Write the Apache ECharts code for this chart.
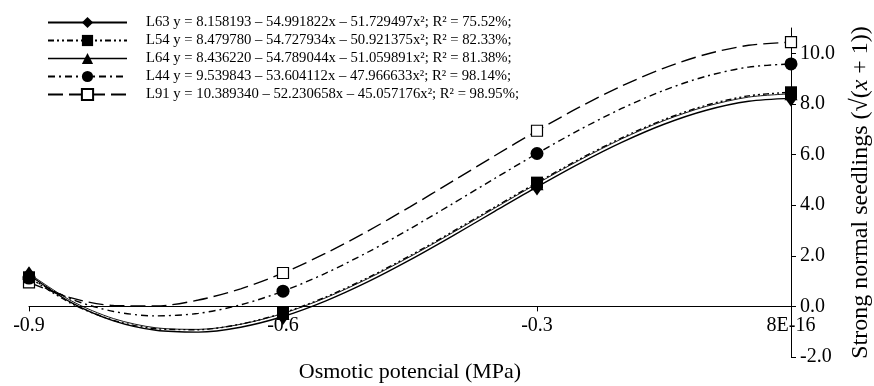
<!DOCTYPE html>
<html><head><meta charset="utf-8">
<script src="https://cdn.jsdelivr.net/npm/echarts@6/dist/echarts.min.js"></script>
<style>html,body{margin:0;padding:0;background:#fff}#c{width:874px;height:386px}</style>
</head><body><div id="c"></div>
<script>
// ---- data ----
const legendNames = [
  'L63 y = 8.158193 – 54.991822x – 51.729497x²; R² = 75.52%;',
  'L54 y = 8.479780 – 54.727934x – 50.921375x²; R² = 82.33%;',
  'L64 y = 8.436220 – 54.789044x – 51.059891x²; R² = 81.38%;',
  'L44 y = 9.539843 – 53.604112x – 47.966633x²; R² = 98.14%;',
  'L91 y = 10.389340 – 52.230658x – 45.057176x²; R² = 98.95%;'
];
const pointX = [-0.9, -0.6, -0.3, 0];
const ptL63 = [1.25, -0.40, 4.72, 8.22];
const ptL54 = [1.15, -0.26, 4.89, 8.46];
const ptL64 = [1.30, -0.28, 4.85, 8.40];
const ptL44 = [1.12, 0.60, 6.04, 9.58];
const ptL91 = [0.95, 1.32, 6.94, 10.44];

const curveX = [-0.9,-0.85,-0.8,-0.75,-0.7,-0.65,-0.6,-0.55,-0.5,-0.45,-0.4,-0.35,-0.3,-0.25,-0.2,-0.15,-0.1,-0.05,0];
const cvL63 = [1.25,0.149,-0.570,-0.945,-1.016,-0.822,-0.40,0.210,0.968,1.838,2.779,3.753,4.72,5.643,6.481,7.197,7.751,8.105,8.22];
const cvL54 = [1.15,0.114,-0.551,-0.884,-0.921,-0.700,-0.26,0.363,1.130,2.004,2.947,3.922,4.89,5.815,6.658,7.381,7.948,8.320,8.46];
const cvL64 = [1.30,0.219,-0.484,-0.847,-0.908,-0.707,-0.28,0.333,1.094,1.964,2.906,3.881,4.85,5.775,6.619,7.341,7.904,8.270,8.40];
const cvL44 = [1.12,0.286,-0.201,-0.376,-0.277,0.061,0.60,1.305,2.139,3.066,4.050,5.053,6.04,6.974,7.820,8.539,9.096,9.455,9.58];
const cvL91 = [0.95,0.334,0.035,0.018,0.250,0.695,1.32,2.091,2.974,3.934,4.938,5.952,6.94,7.870,8.707,9.416,9.964,10.316,10.44];

const xTickLabels = ['-0.9', '-0.6', '-0.3', '8E-16'];
const yTicks = [-2, 0, 2, 4, 6, 8, 10];
const yTickLabels = ['-2.0', '0.0', '2.0', '4.0', '6.0', '8.0', '10.0'];
const xTitle = 'Osmotic potencial (MPa)';

// ---- styles ----
const FONT = '"Liberation Serif", "Times New Roman", serif';
const BLK = '#000';
const styles = [
  {pts: ptL63, cv: cvL63, symbol: 'diamond', size: [12, 17], dash: 'solid', lw: 1.4, fill: BLK},
  {pts: ptL54, cv: cvL54, symbol: 'rect', size: 12, dash: [6, 3, 2, 3, 2, 3], lw: 1.4, fill: BLK},
  {pts: ptL64, cv: cvL64, symbol: 'triangle', size: 13, dash: 'solid', lw: 0.9, fill: BLK},
  {pts: ptL44, cv: cvL44, symbol: 'circle', size: 13, dash: [7, 4, 2, 4], lw: 1.4, fill: BLK},
  {pts: ptL91, cv: cvL91, symbol: 'rect', size: 11, dash: [15, 6], lw: 1.4, fill: '#fff'}
];
const zOrder = [4, 6, 3, 2, 1]; // scatter draw order

const series = [];
styles.forEach((s, i) => {
  series.push({
    name: legendNames[i], type: 'line', smooth: 0.3, showSymbol: false,
    symbol: s.symbol, symbolSize: s.size,
    itemStyle: {color: s.fill, borderColor: BLK, borderWidth: s.fill === '#fff' ? 1 : 0},
    lineStyle: {color: BLK, width: s.lw, type: s.dash},
    data: curveX.map((x, k) => [x, s.cv[k]]),
    z: 2, silent: true
  });
});
styles.forEach((s, i) => {
  series.push({
    name: legendNames[i], type: 'scatter',
    symbol: s.symbol, symbolSize: s.size,
    itemStyle: {color: s.fill, borderColor: BLK, borderWidth: s.fill === '#fff' ? 1.2 : 0, opacity: 1},
    data: pointX.map((x, k) => [x, s.pts[k]]),
    z: 3 + zOrder[i]
  });
});

const chart = echarts.init(document.getElementById('c'), null, {renderer: 'canvas'});
chart.setOption({
  animation: false,
  backgroundColor: '#fff',
  textStyle: {fontFamily: FONT, color: BLK},
  grid: {left: 29, right: 83, top: 28, bottom: 29, containLabel: false, outerBoundsMode: 'none'},
  legend: {
    orient: 'vertical', left: 47, top: 15, padding: 0,
    itemWidth: 79, itemHeight: 14, itemGap: 3,
    textStyle: {fontFamily: FONT, fontSize: 14.7, lineHeight: 14, color: BLK, padding: [0, 0, 0, 14]},
    data: legendNames.map((n, i) => i === 2 ? {name: n, lineStyle: {type: 'solid', width: 1.4}} : {name: n}),
    selectedMode: false
  },
  xAxis: {
    type: 'value', min: -0.9, max: 0, interval: 0.3,
    axisLine: {onZero: true, lineStyle: {color: BLK, width: 1}},
    axisTick: {show: true, inside: false, length: 5, lineStyle: {color: BLK}},
    axisLabel: {fontFamily: FONT, fontSize: 20, color: BLK, margin: -41,
      formatter: (v, idx) => xTickLabels[idx]},
    splitLine: {show: false},
    name: xTitle, nameLocation: 'middle', nameGap: 4,
    nameTextStyle: {fontFamily: FONT, fontSize: 22, color: BLK}
  },
  yAxis: {
    type: 'value', min: -2, max: 11, interval: 2, position: 'right',
    axisLine: {show: true, onZero: true, lineStyle: {color: BLK, width: 1}},
    axisTick: {show: true, inside: false, length: 5, lineStyle: {color: BLK}, customValues: yTicks},
    axisLabel: {fontFamily: FONT, fontSize: 20, color: BLK, margin: 9, customValues: yTicks,
      formatter: v => yTickLabels[yTicks.indexOf(Math.round(v))]},
    splitLine: {show: false},
    name: '{t|Strong normal seedlings (√(}{i|x}{t| + 1))}', nameLocation: 'middle', nameGap: 58,
    nameTextStyle: {fontFamily: FONT, fontSize: 24, color: BLK,
      rich: {t: {fontFamily: FONT, fontSize: 24, color: BLK}, i: {fontFamily: FONT, fontSize: 24, fontStyle: 'italic', color: BLK}}}
  },
  series: series
});
</script></body></html>
